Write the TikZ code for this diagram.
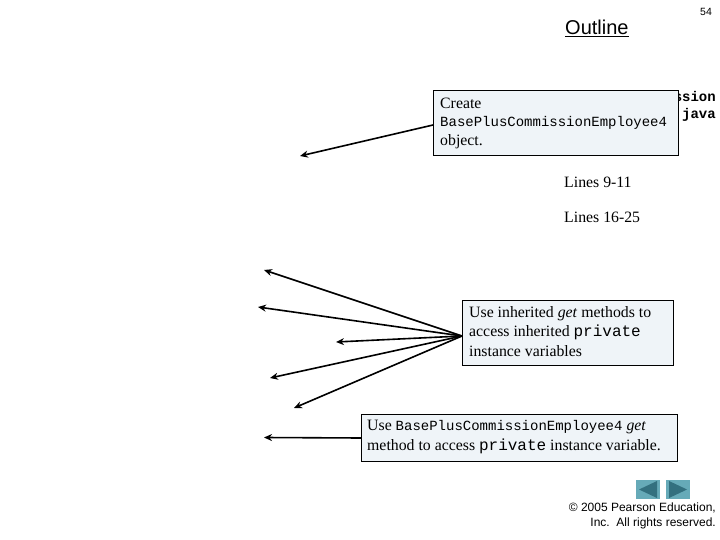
\documentclass[tikz,border=0pt]{standalone}
\usepackage{fontspec}
\setmainfont{Liberation Serif}
\setsansfont{Liberation Sans}
\setmonofont{Liberation Mono}
\definecolor{boxfill}{HTML}{EFF4F8}
\definecolor{btnfill}{HTML}{66AAB8}
\definecolor{btnmark}{HTML}{33707F}
\tikzset{
	callout/.style={draw=black, line width=1pt, fill=boxfill, inner sep=0pt, anchor=north west},
	pointer/.style={draw=black, line width=1.6pt, -{Stealth[length=8pt,width=7pt]}},
	btn/.style={fill=btnfill, minimum width=24pt, minimum height=19pt, inner sep=0pt},
	btnarrow/.style={fill=btnmark, draw=none},
	notes/.style={font=\fontsize{15.8}{19}\selectfont, anchor=west, inner sep=0pt},
}
\usetikzlibrary{arrows.meta}
\newcommand{\cd}[1]{{\fontsize{14}{19}\selectfont\ttfamily #1}}
\newcommand{\cdbig}[2]{{\fontsize{#1}{19}\selectfont\ttfamily #2}}
\begin{document}
\begin{tikzpicture}[x=1pt,y=-1pt]
	\useasboundingbox (0,0) rectangle (720,540);
	
	\node[font=\sffamily\fontsize{20}{24}\selectfont, anchor=base west, inner sep=0pt] (title) at (565,35) {\underline{Outline}};
	\node[font=\sffamily\fontsize{10.5}{12}\selectfont, anchor=base west, inner sep=0pt] (pagenum) at (700,16) {54};
	
	% file name, mostly behind the first box
	\node[font=\fontsize{14}{16.5}\ttfamily\bfseries\selectfont, align=right, anchor=north east, inner sep=0pt] (filename) at (716,91.5)
		{BasePlusCommission\\Employee4Test.java};
	\node[notes] (lines1) at (564,182) {Lines 9-11};
	\node[notes] (lines2) at (564,217) {Lines 16-25};
	
	\node[callout, minimum width=245pt, minimum height=65pt] (createbox) at (433,90) {};
	\node[notes] (create1) at (440,103.5) {Create};
	\node[notes] (create2) at (440,122.5) {\cd{BasePlusCommissionEmployee4}};
	\node[notes] (create3) at (440,141.5) {object.};
	
	\node[callout, minimum width=211pt, minimum height=65pt] (inheritbox) at (462,300) {};
	\node[notes] (inherit1) at (469,313.5) {Use inherited \textit{get} methods to};
	\node[notes] (inherit2) at (469,332.5) {access inherited \cdbig{16}{private}};
	\node[notes] (inherit3) at (469,351.5) {instance variables};
	
	\node[callout, minimum width=316pt, minimum height=47pt] (getbox) at (361,414) {};
	\node[notes] (get1) at (367,427.5) {Use \cd{BasePlusCommissionEmployee4} \textit{get}};
	\node[notes] (get2) at (367,446.5) {method to access \cdbig{16}{private} instance variable.};
	
	\coordinate (createtip) at (300,156);
	\coordinate (createout) at (433,125);
	\coordinate (inheritout) at (462,336);
	\coordinate (tip1) at (264,270);
	\coordinate (tip2) at (258,307);
	\coordinate (tip3) at (336,342);
	\coordinate (tip4) at (270,378);
	\coordinate (tip5) at (294,408);
	\coordinate (gettip) at (264,437.5);
	
	\draw[pointer] (createout) -- (createtip);
	\foreach \t in {tip1,tip2,tip3,tip4,tip5}
		\draw[pointer] (inheritout) -- (\t);
	\draw[pointer] (getbox.west) -- (gettip);
	
	% back and forward buttons
	\node[btn] (backbtn) at (648,489.5) {};
	\node[btn] (nextbtn) at (678,489.5) {};
	\fill[btnarrow] (639,489.5) -- (657,481) -- (657,498) -- cycle;
	\fill[btnarrow] (687,489.5) -- (669,481) -- (669,498) -- cycle;
	
	\node[font=\sffamily\fontsize{12}{15}\selectfont, align=right, anchor=north east, inner sep=0pt] (copyright) at (716,502.5)
		{\textcopyright{} 2005 Pearson Education,\\Inc.~~All rights reserved.};
\end{tikzpicture}
\end{document}
